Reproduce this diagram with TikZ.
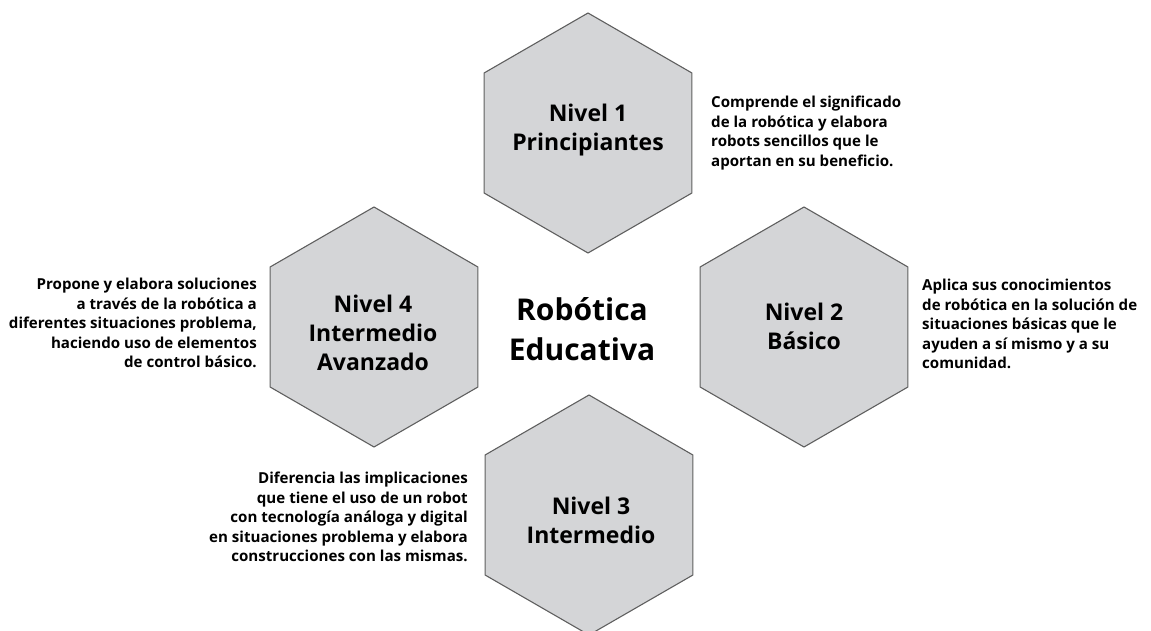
\documentclass[tikz,border=0pt]{standalone}
\usepackage{fontspec}
\setmainfont{Open Sans}
\usetikzlibrary{shapes.geometric}
\definecolor{hexfill}{RGB}{212,213,215}
\definecolor{hexline}{RGB}{95,95,95}
\tikzset{
  hexa/.style={regular polygon, regular polygon sides=6, shape border rotate=30,
    minimum size=240pt, inner sep=0pt, fill=hexfill, draw=hexline, line width=1.1pt},
  hextext/.style={align=center, inner sep=0pt, font=\bfseries\fontsize{23}{29}\selectfont},
  titletext/.style={align=center, inner sep=0pt, font=\bfseries\fontsize{30}{40}\selectfont},
  desc/.style={inner sep=0pt, font=\bfseries\fontsize{15.1}{19.4}\selectfont},
}
\begin{document}
\begin{tikzpicture}[x=1pt,y=-1pt]
\useasboundingbox (0,0) rectangle (1151,631);
\begin{scope}
\clip (0,0) rectangle (1151,631);
\node[hexa] (h1) at (588,133) {};
\node[hexa] (h2) at (804,327) {};
\node[hexa] (h3) at (589,515) {};
\node[hexa] (h4) at (374,327) {};
\end{scope}
\node[hextext] (t1) at (588,130) {Nivel 1\\Principiantes};
\node[hextext] (t2) at (804,326) {Nivel 2\\Básico};
\node[hextext] (t3) at (591,520) {Nivel 3\\Intermedio};
\node[hextext] (t4) at (373,333) {Nivel 4\\Intermedio\\Avanzado};
\node[titletext] (c) at (582,329) {Robótica\\Educativa};
\node[desc, align=left, anchor=west] (d1) at (711,133) {Comprende el significado\\de la robótica y elabora\\robots sencillos que le\\aportan en su beneficio.};
\node[desc, align=left, anchor=west] (d2) at (922,324) {Aplica sus conocimientos\\de robótica en la solución de\\situaciones básicas que le\\ayuden a sí mismo y a su\\comunidad.};
\node[desc, align=right, anchor=east] (d4) at (257,323) {Propone y elabora soluciones\\a través de la robótica a\\diferentes situaciones problema,\\haciendo uso de elementos\\de control básico.};
\node[desc, align=right, anchor=east] (d3) at (468,517) {Diferencia las implicaciones\\que tiene el uso de un robot\hspace{13pt}\\con tecnología análoga y digital\\en situaciones problema y elabora\hspace{-6pt}\\construcciones con las mismas.};
\end{tikzpicture}
\end{document}
